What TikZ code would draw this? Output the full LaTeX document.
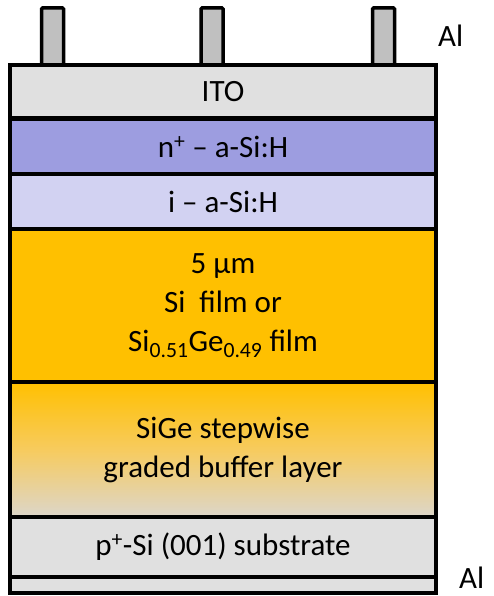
\documentclass[tikz,border=0pt]{standalone}
\usepackage{fontspec}
\setmainfont{Carlito}
\definecolor{itogray}{HTML}{E0E0E0}
\definecolor{contactgray}{HTML}{C0C0C0}
\definecolor{nplus}{HTML}{9D9DE0}
\definecolor{ilayer}{HTML}{D2D2F2}
\definecolor{film}{HTML}{FFC000}
\definecolor{bufbot}{HTML}{DCD6CA}
\definecolor{bufmid}{HTML}{F7CB5E}
\tikzset{
  layer/.style={draw=black, line width=3.5pt, minimum width=426pt, inner sep=0pt,
    align=center, font=\fontsize{31}{39}\selectfont, text=black},
  contact/.style={draw=black, fill=contactgray, line width=3.5pt, rounded corners=1pt},
  label/.style={font=\fontsize{31}{34}\selectfont, anchor=west, inner sep=0pt}
}
\begin{document}
\begin{tikzpicture}[x=1pt,y=-1pt]
\useasboundingbox (0,0) rectangle (493,596);
% top contacts
\draw[contact] (41.5,8) rectangle (63.5,70);
\draw[contact] (201,8) rectangle (223,70);
\draw[contact] (372.5,8) rectangle (394.5,70);
% layers
\node[layer, fill=itogray, minimum height=53pt] (ito) at (223,91.5) {ITO};
\node[layer, fill=nplus, minimum height=55pt] (np) at (223,146.5) {n\textsuperscript{+} – a-Si:H};
\node[layer, fill=ilayer, minimum height=55pt] (ia) at (223,201.5) {i – a-Si:H};
\node[layer, fill=film, minimum height=153pt] (film) at (223,305.5) {5 µm\\Si\ \ film or\\Si\textsubscript{0.51}Ge\textsubscript{0.49} film};
\node[layer, top color=film, bottom color=bufbot, middle color=bufmid, minimum height=135pt] (buf) at (223,449.5) {SiGe stepwise\\graded buffer layer};
\node[layer, fill=itogray, minimum height=60pt] (sub) at (223,547) {p\textsuperscript{+}-Si (001) substrate};
\node[layer, fill=itogray, minimum height=16pt] (alb) at (223,585) {};
% labels
\node[label] (altop) at (438,36) {Al};
\node[label] (albot) at (459,578) {Al};
\end{tikzpicture}
\end{document}
